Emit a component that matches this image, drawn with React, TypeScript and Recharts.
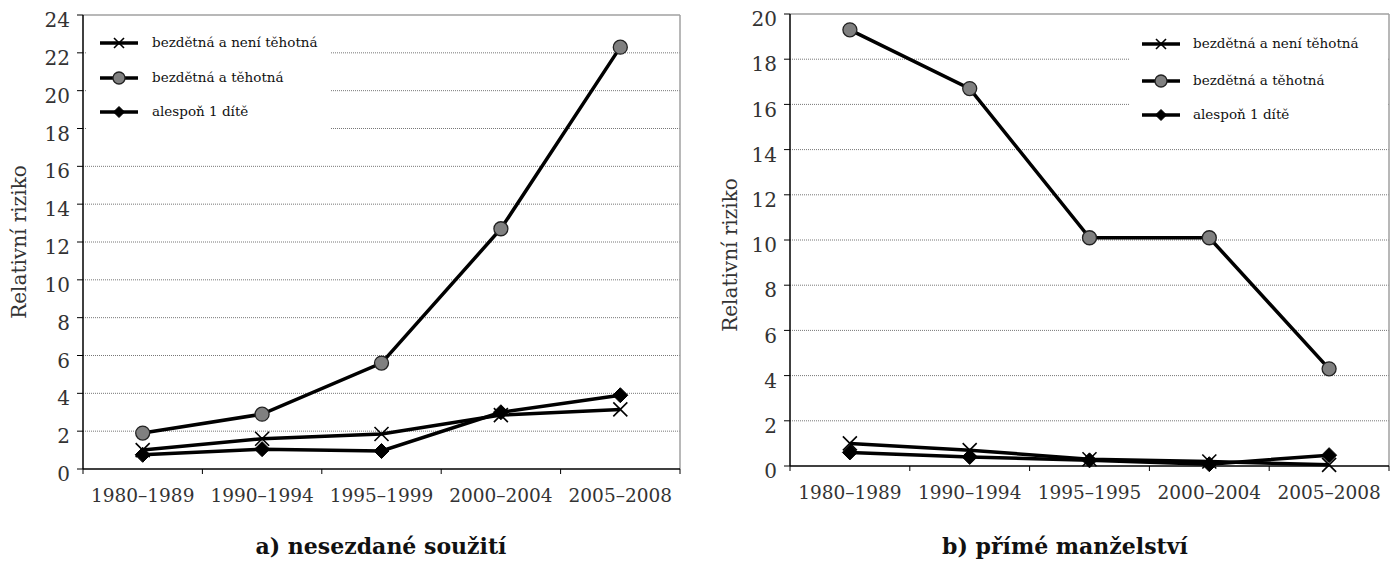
import { LineChart, Line, XAxis, YAxis, CartesianGrid, ReferenceLine, Legend } from 'recharts'

const CATEGORIES_A = ['1980–1989', '1990–1994', '1995–1999', '2000–2004', '2005–2008']
const CATEGORIES_B = ['1980–1989', '1990–1994', '1995–1995', '2000–2004', '2005–2008']

const A_NOT_PREGNANT = [1.0, 1.6, 1.85, 2.85, 3.15]
const A_PREGNANT = [1.9, 2.9, 5.6, 12.7, 22.3]
const A_CHILD = [0.75, 1.05, 0.95, 3.0, 3.9]

const B_NOT_PREGNANT = [1.0, 0.7, 0.3, 0.2, 0.05]
const B_PREGNANT = [19.3, 16.7, 10.1, 10.1, 4.3]
const B_CHILD = [0.6, 0.4, 0.25, 0.08, 0.48]

const TICKS_A = [0, 2, 4, 6, 8, 10, 12, 14, 16, 18, 20, 22, 24]
const TICKS_B = [0, 2, 4, 6, 8, 10, 12, 14, 16, 18, 20]

const SERIES_NAMES = ['bezdětná a není těhotná', 'bezdětná a těhotná', 'alespoň 1 dítě']
const TITLE_A = 'a) nesezdané soužití'
const TITLE_B = 'b) přímé manželství'
const Y_LABEL = 'Relativní riziko'

const FONT = '"DejaVu Serif", serif'

function buildData(cats: string[], np: number[], p: number[], ch: number[]) {
  return cats.map((c, i) => ({ pos: i + 0.5, label: c, np: np[i], p: p[i], ch: ch[i] }))
}

const CrossMark = ({ cx, cy, s = 7 }: any) => (
  <g>
    <line x1={cx - s} y1={cy - s} x2={cx + s} y2={cy + s} stroke="#000" strokeWidth={1.6} />
    <line x1={cx - s} y1={cy + s} x2={cx + s} y2={cy - s} stroke="#000" strokeWidth={1.6} />
  </g>
)
const CircleMark = ({ cx, cy, r = 7 }: any) => (
  <circle cx={cx} cy={cy} r={r} fill="#808080" stroke="#222" strokeWidth={1.3} />
)
const DiamondMark = ({ cx, cy, s = 7.5 }: any) => (
  <polygon points={`${cx},${cy - s} ${cx + s},${cy} ${cx},${cy + s} ${cx - s},${cy}`} fill="#000" stroke="#000" strokeWidth={1} />
)

const crossDot = (p: any) => (p.cx == null ? <g key={`x${p.index}`} /> : <g key={`x${p.index}`}><CrossMark cx={p.cx} cy={p.cy} /></g>)
const circleDot = (p: any) => (p.cx == null ? <g key={`c${p.index}`} /> : <g key={`c${p.index}`}><CircleMark cx={p.cx} cy={p.cy} /></g>)
const diamondDot = (p: any) => (p.cx == null ? <g key={`d${p.index}`} /> : <g key={`d${p.index}`}><DiamondMark cx={p.cx} cy={p.cy} /></g>)

function LegendBox({ symbolX, textX, rows }: { symbolX: number; textX: number; rows: number[] }) {
  const marks = [
    <CrossMark cx={20} cy={10} s={5} />,
    <CircleMark cx={20} cy={10} r={6} />,
    <DiamondMark cx={20} cy={10} s={5.5} />,
  ]
  return (
    <div style={{ position: 'relative', width: '100%', height: '100%' }}>
      {SERIES_NAMES.map((name, i) => (
        <div key={name} style={{ position: 'absolute', top: rows[i] - 10, left: 0, height: 20, width: '100%' }}>
          <svg width={40} height={20} style={{ position: 'absolute', left: symbolX, top: 0 }}>
            <line x1={1} y1={10} x2={39} y2={10} stroke="#000" strokeWidth={3.5} />
            {marks[i]}
          </svg>
          <span style={{ position: 'absolute', left: textX, top: 0, lineHeight: '18px', fontFamily: FONT, fontSize: 13.5, color: '#111', whiteSpace: 'nowrap' }}>
            {name}
          </span>
        </div>
      ))}
    </div>
  )
}

function Panel(props: any) {
  const { left, width, yWidth, margin, data, cats, ticks, max, legend, title, titleCenter, yLabelX, yLabelY } = props
  const xTicks = [0, 0.5, 1, 1.5, 2, 2.5, 3, 3.5, 4, 4.5, 5]
  const XTick = ({ x, y, payload }: any) => {
    const v = payload.value
    if (Number.isInteger(v)) return <line x1={x} x2={x} y1={y} y2={y + 5} stroke="#000" strokeWidth={1} />
    return (
      <text x={x} y={y + 33} textAnchor="middle" fontFamily={FONT} fontSize={18.5} fill="#333">
        {cats[Math.floor(v)]}
      </text>
    )
  }
  return (
    <div style={{ position: 'absolute', left, top: 0, width, height: 577 }}>
      <LineChart width={width} height={520} data={data} margin={margin}>
        <CartesianGrid vertical={false} horizontalValues={ticks.slice(1, -1)} stroke="#777" strokeDasharray="1 1" />
        <ReferenceLine y={max} stroke="#a0a0a0" strokeWidth={1.5} />
        <ReferenceLine x={5} stroke="#a0a0a0" strokeWidth={1.5} />
        <XAxis
          type="number"
          dataKey="pos"
          domain={[0, 5]}
          ticks={xTicks}
          interval={0}
          tickLine={false}
          tickSize={0}
          tickMargin={0}
          height={40}
          axisLine={{ stroke: '#000', strokeWidth: 1.5 }}
          tick={<XTick />}
        />
        <YAxis
          type="number"
          domain={[0, max]}
          ticks={ticks}
          interval={0}
          width={yWidth}
          axisLine={{ stroke: '#000', strokeWidth: 1.5 }}
          tickLine={{ stroke: '#000' }}
          tickSize={6}
          tickMargin={7}
          tick={{ fontFamily: FONT, fontSize: 20, fill: '#333', dy: 5 }}
        />
        <Legend
          layout="vertical"
          align="center"
          verticalAlign="middle"
          wrapperStyle={{ left: legend.left, top: legend.top, width: legend.width, height: legend.height, background: '#fff' }}
          content={() => <LegendBox symbolX={legend.symbolX} textX={legend.textX} rows={legend.rows} />}
        />
        <Line dataKey="np" stroke="#000" strokeWidth={3.5} dot={crossDot} isAnimationActive={false} />
        <Line dataKey="ch" stroke="#000" strokeWidth={3.5} dot={diamondDot} isAnimationActive={false} />
        <Line dataKey="p" stroke="#000" strokeWidth={3.5} dot={circleDot} isAnimationActive={false} />
        <text
          transform={`translate(${yLabelX},${yLabelY}) rotate(-90)`}
          textAnchor="middle"
          dominantBaseline="central"
          fontFamily={FONT}
          fontSize={20}
          fill="#333"
        >
          {Y_LABEL}
        </text>
      </LineChart>
      <div
        style={{
          position: 'absolute',
          left: titleCenter - 200,
          width: 400,
          top: 533,
          textAlign: 'center',
          fontFamily: FONT,
          fontWeight: 'bold',
          fontSize: 22,
          color: '#111',
        }}
      >
        {title}
      </div>
    </div>
  )
}

export default function App() {
  const dataA = buildData(CATEGORIES_A, A_NOT_PREGNANT, A_PREGNANT, A_CHILD)
  const dataB = buildData(CATEGORIES_B, B_NOT_PREGNANT, B_PREGNANT, B_CHILD)
  return (
    <div style={{ position: 'relative', width: 1393, height: 577, background: '#fff', overflow: 'hidden' }}>
      <style>{'body{margin:0}'}</style>
      <Panel
        left={0}
        width={700}
        yWidth={83}
        margin={{ top: 15, right: 20, left: 0, bottom: 11 }}
        data={dataA}
        cats={CATEGORIES_A}
        ticks={TICKS_A}
        max={24}
        legend={{ left: 86, top: 17, width: 245, height: 125, symbolX: 13, textX: 66, rows: [26, 61, 95] }}
        title={TITLE_A}
        titleCenter={381}
        yLabelX={19}
        yLabelY={242}
      />
      <Panel
        left={700}
        width={693}
        yWidth={90}
        margin={{ top: 14, right: 4, left: 0, bottom: 14 }}
        data={dataB}
        cats={CATEGORIES_B}
        ticks={TICKS_B}
        max={20}
        legend={{ left: 430, top: 17, width: 258, height: 123, symbolX: 11, textX: 63, rows: [27, 64, 98] }}
        title={TITLE_B}
        titleCenter={365}
        yLabelX={30}
        yLabelY={255}
      />
    </div>
  )
}
